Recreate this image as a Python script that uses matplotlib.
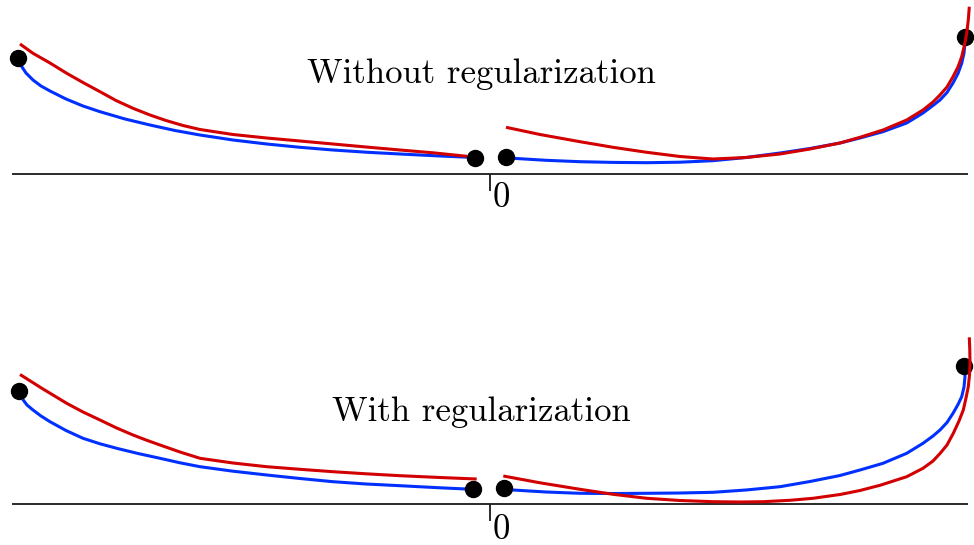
import matplotlib
matplotlib.use("Agg")
import matplotlib.pyplot as plt

plt.rcParams["font.family"] = ["cmr10", "DejaVu Serif"]
plt.rcParams["axes.unicode_minus"] = False

BLUE = "#0030ff"
RED = "#d20000"

# ---- Panel 1: without regularization ----
top_title = "Without regularization"
top_dots_x = [-471.5, -14.5, 16.5, 475.5]
top_dots_y = [116.0, 16.0, 16.5, 136.5]

top_blue_left_x = [-468.8, -463.5, -456.5, -448.5, -439.5, -423.5, -406.5, -389.5, -364.5, -339.5,
                   -314.5, -289.5, -256.5, -222.8, -189.5, -156.5, -123.5, -89.5, -49.5, -14.5]
top_blue_left_y = [108.5, 100.5, 93.5, 87.5, 82.5, 74.5, 67.5, 61.8, 54.5, 48.5,
                   43.0, 38.5, 33.5, 29.5, 26.2, 23.5, 21.3, 19.5, 17.5, 16.0]

top_red_left_x = [-469.5, -456.5, -439.5, -422.8, -406.5, -389.5, -373.5, -356.5, -339.5, -323.5,
                  -306.5, -289.5, -256.5, -222.8, -189.5, -156.5, -123.5, -89.5, -56.5, -22.5]
top_red_left_y = [129.5, 120.2, 110.5, 100.2, 91.0, 81.8, 73.0, 65.2, 58.5, 53.0,
                  48.0, 44.0, 39.0, 35.5, 32.5, 29.5, 26.5, 23.5, 20.7, 17.2]

top_blue_right_x = [16.5, 23.5, 56.5, 90.5, 123.5, 157.2, 190.5, 223.5, 256.5, 290.5, 320.5, 350.5,
                    370.5, 393.5, 417.2, 433.5, 443.5, 450.5, 457.5, 463.5, 468.5, 472.2, 474.5, 475.5]
top_blue_right_y = [16.5, 15.2, 13.2, 11.8, 11.1, 10.8, 11.3, 12.8, 16.0, 20.5, 25.0, 30.5,
                    35.5, 41.8, 50.5, 60.5, 68.0, 73.5, 81.0, 90.5, 100.0, 110.2, 120.5, 130.5]

top_red_right_x = [16.5, 50.5, 90.5, 123.5, 157.2, 190.5, 223.5, 256.5, 290.5, 320.5, 350.5, 370.5,
                   393.5, 417.2, 433.5, 443.5, 450.5, 457.5, 463.5, 468.5, 472.2, 475.0, 477.2, 478.8, 479.8]
top_red_right_y = [46.2, 39.0, 31.8, 26.2, 21.2, 17.0, 14.5, 16.0, 19.5, 24.5, 30.5, 36.2,
                   43.5, 53.5, 63.5, 71.5, 78.5, 86.5, 96.8, 106.5, 116.8, 128.5, 140.2, 153.5, 166.8]

# ---- Panel 2: with regularization ----
bot_title = "With regularization"
bot_dots_x = [-470.5, -16.2, 14.5, 474.5]
bot_dots_y = [113.6, 15.0, 16.0, 138.8]

bot_blue_left_x = [-466.8, -462.5, -456.5, -448.5, -439.5, -423.5, -406.5, -389.5, -372.8, -351.5, -329.5,
                   -309.5, -289.5, -256.5, -222.8, -189.5, -156.5, -123.5, -89.5, -49.5, -16.5]
bot_blue_left_y = [105.0, 99.3, 94.3, 88.3, 82.6, 73.8, 66.0, 60.5, 56.0, 50.8, 46.0,
                   41.5, 37.6, 33.1, 29.3, 25.8, 22.6, 20.3, 18.6, 16.5, 15.0]

bot_red_left_x = [-469.5, -446.5, -422.8, -406.5, -389.5, -373.5, -356.5, -343.5, -329.5, -309.5,
                  -289.5, -256.5, -222.8, -189.5, -156.5, -123.5, -89.5, -49.5, -12.8]
bot_red_left_y = [129.8, 115.3, 101.0, 92.3, 84.3, 76.6, 69.3, 64.3, 59.3, 52.3,
                  46.0, 41.3, 37.6, 35.0, 32.6, 30.5, 28.6, 26.8, 25.3]

bot_blue_right_x = [14.5, 23.5, 56.5, 90.5, 123.5, 157.2, 190.5, 223.5, 256.5, 290.5, 320.5, 350.5, 370.5,
                    393.5, 417.2, 433.5, 443.5, 450.5, 457.5, 463.5, 468.5, 472.2, 474.5, 475.5, 475.0]
bot_blue_right_y = [15.0, 14.3, 12.3, 11.0, 10.8, 11.0, 11.3, 12.0, 14.3, 17.6, 22.8, 28.8, 34.3,
                    41.0, 51.0, 61.0, 68.3, 74.3, 81.8, 91.0, 99.8, 107.6, 117.3, 127.6, 138.3]

bot_red_right_x = [13.8, 50.5, 90.5, 123.5, 157.2, 190.5, 223.5, 250.5, 273.5, 300.5, 323.5, 350.5, 370.5,
                   391.5, 417.2, 433.5, 443.5, 450.5, 457.5, 463.8, 469.5, 473.8, 476.5, 478.8, 480.0,
                   480.5, 480.3, 479.8]
bot_red_right_y = [28.3, 21.5, 15.0, 10.0, 6.0, 3.8, 2.6, 2.3, 2.6, 4.0, 6.0, 9.8, 13.8,
                   19.3, 27.6, 36.0, 43.3, 50.8, 59.3, 71.0, 83.3, 94.3, 106.3, 117.6, 129.3,
                   141.0, 154.3, 167.0]

tick_label = "0"

fig = plt.figure(figsize=(9.74, 5.45), dpi=100)


def draw_panel(ax, ylim, title, title_y, label_y, dots, curves):
    ax.set_xlim(-489.5, 484.5)
    ax.set_ylim(*ylim)
    ax.axis("off")
    # horizontal axis with a single tick at the origin
    ax.plot([-477.5, 478.5], [0, 0], color="#1a1a1a", lw=1.3, solid_capstyle="butt", zorder=1)
    ax.plot([0, 0], [0, -17], color="#1a1a1a", lw=1.3, solid_capstyle="butt", zorder=1)
    ax.text(12, label_y, tick_label, ha="center", va="center", fontsize=25)
    ax.text(-8.5, title_y, title, ha="center", va="center", fontsize=25)
    for (xs, ys), color, z in curves:
        ax.plot(xs, ys, color=color, lw=2.2, solid_capstyle="butt",
                solid_joinstyle="round", zorder=z)
    ax.plot(dots[0], dots[1], "o", color="black", ms=11.5, zorder=3, linestyle="none")


ax_top = fig.add_axes([0, 0.5, 1, 0.5])
draw_panel(
    ax_top, (-99.0, 173.5), top_title, 99.5, -24.5,
    (top_dots_x, top_dots_y),
    [((top_blue_left_x, top_blue_left_y), BLUE, 2),
     ((top_blue_right_x, top_blue_right_y), BLUE, 2),
     ((top_red_left_x, top_red_left_y), RED, 4),
     ((top_red_right_x, top_red_right_y), RED, 4)],
)

ax_bot = fig.add_axes([0, 0, 1, 0.5])
draw_panel(
    ax_bot, (-40.7, 231.8), bot_title, 92.3, -25.7,
    (bot_dots_x, bot_dots_y),
    [((bot_blue_left_x, bot_blue_left_y), BLUE, 2),
     ((bot_blue_right_x, bot_blue_right_y), BLUE, 2),
     ((bot_red_left_x, bot_red_left_y), RED, 4),
     ((bot_red_right_x, bot_red_right_y), RED, 4)],
)

fig.savefig("out.png", dpi=100)
